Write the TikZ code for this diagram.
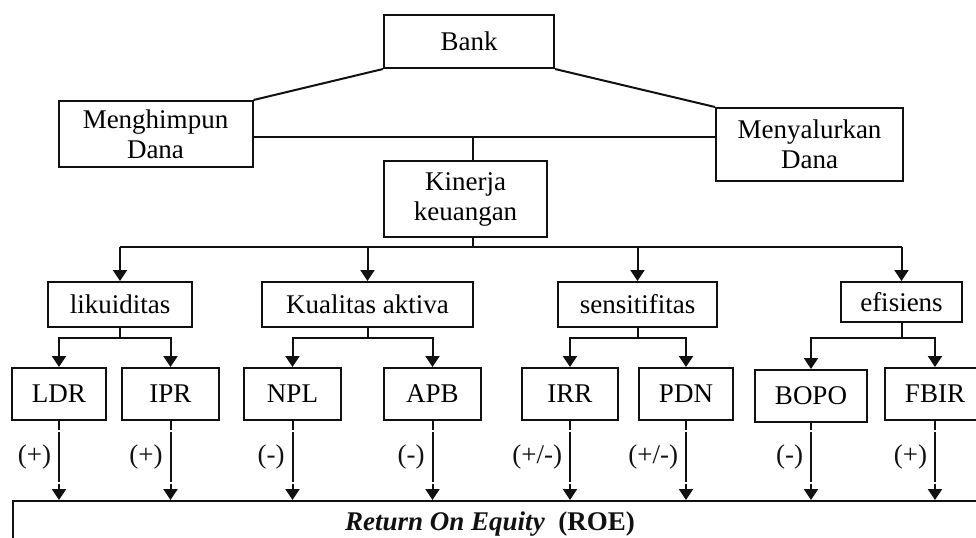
\documentclass[tikz,border=0pt]{standalone}
\usepackage{fontspec}
\setmainfont{Liberation Serif}
\usepackage{xcolor}
\usepackage{tikz}
\usetikzlibrary{arrows.meta,calc}
\definecolor{kkink}{HTML}{111111}

\tikzset{
  kkbox/.style={draw=kkink,line width=1pt,inner sep=2pt,align=center,
    font=\fontsize{13.5}{15}\selectfont},
  kkline/.style={draw=kkink,line width=1pt},
  kkarrow/.style={kkline,-{Triangle[length=5.5pt,width=7pt]}},
  kkeffect/.style={kkarrow,dash pattern=on 4.5pt off 1pt on 25pt off 1pt on 30pt},
  kksign/.style={left,inner sep=3.5pt,font=\fontsize{13.5}{15}\selectfont,text=kkink},
}

\begin{document}
\begin{tikzpicture}[x=0.5pt,y=-0.5pt]
\useasboundingbox (0,0) rectangle (976,537);
\clip (0,0) rectangle (976,537);

% bank and its two functions
\node[kkbox,minimum width=85pt,minimum height=26.5pt] (bank) at (469,41.5) {Bank};
\node[kkbox,minimum width=97pt,minimum height=33pt] (himpun) at (155.5,134) {Menghimpun\\Dana};
\node[kkbox,minimum width=93.5pt,minimum height=36.5pt] (salur) at (809.5,144.5) {Menyalurkan\\Dana};
\node[kkbox,minimum width=81.5pt,minimum height=38pt] (kinerja) at (465.5,199) {Kinerja\\keuangan};

\draw[kkline] (bank.south west) -- (himpun.north east);
\draw[kkline] (bank.south east) -- (salur.north west);
\coordinate (hub) at (473,137);
\draw[kkline] (himpun.east |- hub) -- (salur.west |- hub);
\draw[kkline] (hub) -- (hub |- kinerja.north);

% aspects of performance
\node[kkbox,minimum width=72pt,minimum height=22.5pt] (likuid) at (120,304.5) {likuiditas};
\node[kkbox,minimum width=105.5pt,minimum height=22.5pt] (kualitas) at (367.5,304.5) {Kualitas aktiva};
\node[kkbox,minimum width=79.5pt,minimum height=22.5pt] (sensi) at (637.5,304.5) {sensitifitas};
\node[kkbox,minimum width=60.5pt,minimum height=20pt] (efisien) at (901.5,302) {efisiens};

\coordinate (bus) at (473,247);
\draw[kkline] (bus |- kinerja.south) -- (bus);
\draw[kkline] (likuid.north |- bus) -- (efisien.north |- bus);
\foreach \n in {likuid,kualitas,sensi,efisien}
  \draw[kkarrow] (\n.north |- bus) -- (\n.north);

% ratios
\node[kkbox,minimum width=47pt,minimum height=26pt] (ldr) at (59,394) {LDR};
\node[kkbox,minimum width=48.5pt,minimum height=26pt] (ipr) at (170.5,394) {IPR};
\node[kkbox,minimum width=48.5pt,minimum height=26pt] (npl) at (292.5,394) {NPL};
\node[kkbox,minimum width=48.5pt,minimum height=26pt] (apb) at (432.5,394) {APB};
\node[kkbox,minimum width=48pt,minimum height=26pt] (irr) at (570,394) {IRR};
\node[kkbox,minimum width=47pt,minimum height=26pt] (pdn) at (686,394) {PDN};
\node[kkbox,minimum width=56pt,minimum height=26pt] (bopo) at (811,396) {BOPO};
\node[kkbox,minimum width=50pt,minimum height=26pt] (fbir) at (935,394) {FBIR};

\coordinate (split) at (0,338);
\foreach \p/\a/\b in {likuid/ldr/ipr,kualitas/npl/apb,sensi/irr/pdn,efisien/bopo/fbir}{
  \draw[kkline] (\p.south) -- (\p.south |- split);
  \draw[kkarrow] (\p.south |- split) -| (\a.north);
  \draw[kkarrow] (\p.south |- split) -| (\b.north);
}

% return on equity
\node[draw=kkink,line width=1pt,anchor=north west,inner sep=0pt,
      minimum width=495pt,minimum height=40pt] (roe) at (12,500) {};
\node[font=\fontsize{13.5}{15}\selectfont\bfseries,text=kkink] (roetext) at (490,524)
  {\textit{Return On Equity}~~(ROE)};

\foreach \n/\s [count=\i] in {ldr/{(+)},ipr/{(+)},npl/{(-)},apb/{(-)},irr/{(+/-)},pdn/{(+/-)},bopo/{(-)},fbir/{(+)}}
  \draw[kkeffect] (\n.south |- ldr.south) -- node[kksign,pos=0.45] (sign\i) {\s} (\n.south |- roe.north);
\end{tikzpicture}
\end{document}
